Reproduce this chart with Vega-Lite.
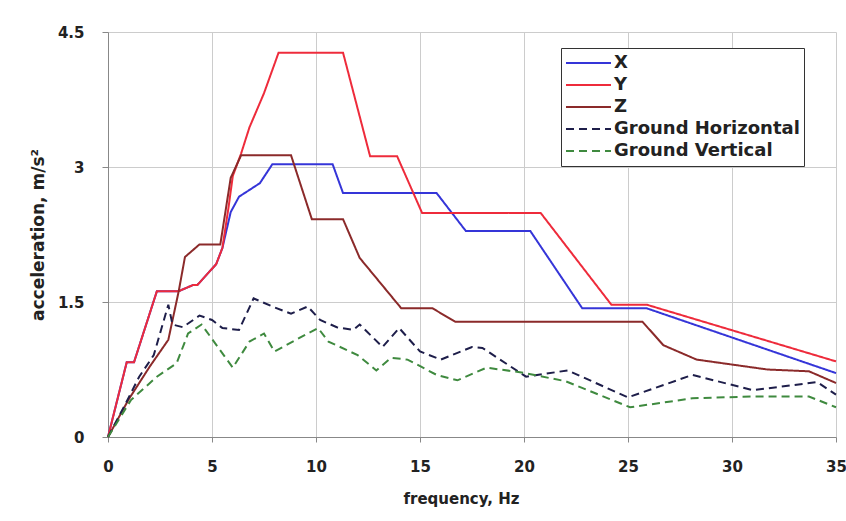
{
  "$schema": "https://vega.github.io/schema/vega-lite/v6.json",
  "autosize": {"type": "none"},
  "padding": {"left": 108, "top": 32, "right": 10, "bottom": 84},
  "width": 728,
  "height": 405,
  "background": "#ffffff",
  "config": {
    "font": "DejaVu Sans",
    "view": {"stroke": null}
  },
  "data": {
    "values": [
      {"s": "X", "f": 0, "a": 0}, {"s": "X", "f": 0.9, "a": 0.83}, {"s": "X", "f": 1.25, "a": 0.83}, {"s": "X", "f": 2.35, "a": 1.62}, {"s": "X", "f": 3.4, "a": 1.62}, {"s": "X", "f": 4.1, "a": 1.69}, {"s": "X", "f": 4.3, "a": 1.69}, {"s": "X", "f": 5.2, "a": 1.92}, {"s": "X", "f": 5.5, "a": 2.1}, {"s": "X", "f": 5.9, "a": 2.5}, {"s": "X", "f": 6.3, "a": 2.67}, {"s": "X", "f": 7.3, "a": 2.82}, {"s": "X", "f": 7.9, "a": 3.03}, {"s": "X", "f": 10.8, "a": 3.03}, {"s": "X", "f": 11.3, "a": 2.71}, {"s": "X", "f": 15.8, "a": 2.71}, {"s": "X", "f": 17.2, "a": 2.29}, {"s": "X", "f": 20.3, "a": 2.29}, {"s": "X", "f": 22.8, "a": 1.43}, {"s": "X", "f": 25.9, "a": 1.43}, {"s": "X", "f": 35, "a": 0.71},
      {"s": "Y", "f": 0, "a": 0}, {"s": "Y", "f": 0.9, "a": 0.83}, {"s": "Y", "f": 1.25, "a": 0.83}, {"s": "Y", "f": 2.35, "a": 1.62}, {"s": "Y", "f": 3.4, "a": 1.62}, {"s": "Y", "f": 4.1, "a": 1.69}, {"s": "Y", "f": 4.3, "a": 1.69}, {"s": "Y", "f": 5.2, "a": 1.92}, {"s": "Y", "f": 5.5, "a": 2.1}, {"s": "Y", "f": 5.8, "a": 2.56}, {"s": "Y", "f": 6.0, "a": 2.9}, {"s": "Y", "f": 6.4, "a": 3.15}, {"s": "Y", "f": 6.8, "a": 3.44}, {"s": "Y", "f": 7.5, "a": 3.82}, {"s": "Y", "f": 8.2, "a": 4.27}, {"s": "Y", "f": 11.3, "a": 4.27}, {"s": "Y", "f": 12.6, "a": 3.12}, {"s": "Y", "f": 13.9, "a": 3.12}, {"s": "Y", "f": 15.1, "a": 2.49}, {"s": "Y", "f": 20.8, "a": 2.49}, {"s": "Y", "f": 24.2, "a": 1.47}, {"s": "Y", "f": 25.9, "a": 1.47}, {"s": "Y", "f": 35, "a": 0.84},
      {"s": "Z", "f": 0, "a": 0}, {"s": "Z", "f": 1, "a": 0.42}, {"s": "Z", "f": 2, "a": 0.78}, {"s": "Z", "f": 2.9, "a": 1.08}, {"s": "Z", "f": 3.4, "a": 1.62}, {"s": "Z", "f": 3.7, "a": 2.0}, {"s": "Z", "f": 4.4, "a": 2.14}, {"s": "Z", "f": 5.4, "a": 2.14}, {"s": "Z", "f": 5.9, "a": 2.88}, {"s": "Z", "f": 6.4, "a": 3.13}, {"s": "Z", "f": 8.8, "a": 3.13}, {"s": "Z", "f": 9.8, "a": 2.42}, {"s": "Z", "f": 11.3, "a": 2.42}, {"s": "Z", "f": 12.1, "a": 1.99}, {"s": "Z", "f": 14.1, "a": 1.43}, {"s": "Z", "f": 15.6, "a": 1.43}, {"s": "Z", "f": 16.7, "a": 1.28}, {"s": "Z", "f": 25.7, "a": 1.28}, {"s": "Z", "f": 26.7, "a": 1.02}, {"s": "Z", "f": 28.3, "a": 0.86}, {"s": "Z", "f": 31.7, "a": 0.75}, {"s": "Z", "f": 33.7, "a": 0.73}, {"s": "Z", "f": 35, "a": 0.6},
      {"s": "Ground Horizontal", "f": 0, "a": 0}, {"s": "Ground Horizontal", "f": 0.8, "a": 0.35}, {"s": "Ground Horizontal", "f": 1.5, "a": 0.67}, {"s": "Ground Horizontal", "f": 2.2, "a": 0.91}, {"s": "Ground Horizontal", "f": 2.9, "a": 1.47}, {"s": "Ground Horizontal", "f": 3.1, "a": 1.25}, {"s": "Ground Horizontal", "f": 3.6, "a": 1.22}, {"s": "Ground Horizontal", "f": 4.4, "a": 1.35}, {"s": "Ground Horizontal", "f": 5.0, "a": 1.3}, {"s": "Ground Horizontal", "f": 5.5, "a": 1.21}, {"s": "Ground Horizontal", "f": 6.3, "a": 1.19}, {"s": "Ground Horizontal", "f": 7.0, "a": 1.54}, {"s": "Ground Horizontal", "f": 7.9, "a": 1.45}, {"s": "Ground Horizontal", "f": 8.8, "a": 1.37}, {"s": "Ground Horizontal", "f": 9.6, "a": 1.45}, {"s": "Ground Horizontal", "f": 10.2, "a": 1.3}, {"s": "Ground Horizontal", "f": 11.0, "a": 1.22}, {"s": "Ground Horizontal", "f": 11.8, "a": 1.19}, {"s": "Ground Horizontal", "f": 12.1, "a": 1.25}, {"s": "Ground Horizontal", "f": 13.2, "a": 1.0}, {"s": "Ground Horizontal", "f": 14.0, "a": 1.21}, {"s": "Ground Horizontal", "f": 15.0, "a": 0.95}, {"s": "Ground Horizontal", "f": 16.0, "a": 0.86}, {"s": "Ground Horizontal", "f": 17.5, "a": 1.0}, {"s": "Ground Horizontal", "f": 18.0, "a": 0.99}, {"s": "Ground Horizontal", "f": 20.1, "a": 0.67}, {"s": "Ground Horizontal", "f": 22.1, "a": 0.74}, {"s": "Ground Horizontal", "f": 25.0, "a": 0.44}, {"s": "Ground Horizontal", "f": 28.1, "a": 0.69}, {"s": "Ground Horizontal", "f": 31.0, "a": 0.52}, {"s": "Ground Horizontal", "f": 34.1, "a": 0.61}, {"s": "Ground Horizontal", "f": 35, "a": 0.47},
      {"s": "Ground Vertical", "f": 0, "a": 0}, {"s": "Ground Vertical", "f": 1.1, "a": 0.41}, {"s": "Ground Vertical", "f": 2.35, "a": 0.67}, {"s": "Ground Vertical", "f": 3.3, "a": 0.82}, {"s": "Ground Vertical", "f": 3.85, "a": 1.15}, {"s": "Ground Vertical", "f": 4.5, "a": 1.25}, {"s": "Ground Vertical", "f": 6.0, "a": 0.77}, {"s": "Ground Vertical", "f": 6.8, "a": 1.06}, {"s": "Ground Vertical", "f": 7.5, "a": 1.15}, {"s": "Ground Vertical", "f": 8.0, "a": 0.95}, {"s": "Ground Vertical", "f": 9.6, "a": 1.15}, {"s": "Ground Vertical", "f": 10.1, "a": 1.21}, {"s": "Ground Vertical", "f": 10.6, "a": 1.06}, {"s": "Ground Vertical", "f": 12.0, "a": 0.91}, {"s": "Ground Vertical", "f": 12.9, "a": 0.74}, {"s": "Ground Vertical", "f": 13.6, "a": 0.88}, {"s": "Ground Vertical", "f": 14.4, "a": 0.86}, {"s": "Ground Vertical", "f": 15.8, "a": 0.69}, {"s": "Ground Vertical", "f": 16.8, "a": 0.63}, {"s": "Ground Vertical", "f": 18.2, "a": 0.77}, {"s": "Ground Vertical", "f": 19.8, "a": 0.72}, {"s": "Ground Vertical", "f": 22.0, "a": 0.62}, {"s": "Ground Vertical", "f": 25.1, "a": 0.33}, {"s": "Ground Vertical", "f": 28.1, "a": 0.43}, {"s": "Ground Vertical", "f": 31.0, "a": 0.45}, {"s": "Ground Vertical", "f": 33.7, "a": 0.45}, {"s": "Ground Vertical", "f": 35, "a": 0.33}
    ]
  },
  "mark": {"type": "line", "strokeWidth": 2, "clip": false},
  "encoding": {
    "x": {
      "field": "f", "type": "quantitative",
      "scale": {"domain": [0, 35], "nice": false, "zero": false},
      "axis": {
        "title": "frequency, Hz", "values": [0, 5, 10, 15, 20, 25, 30, 35],
        "grid": true, "gridColor": "#cccccc", "gridWidth": 1,
        "domainColor": "#888888", "tickColor": "#888888", "tickSize": 5,
        "labelFont": "DejaVu Sans", "labelFontSize": 15, "labelFontWeight": "bold", "labelColor": "#222222",
        "labelPadding": 17, "labelFlush": false,
        "titleFont": "DejaVu Sans", "titleFontSize": 15, "titleFontWeight": "bold", "titleColor": "#222222",
        "titlePadding": 17, "titleX": 353, "titleAlign": "center"
      }
    },
    "y": {
      "field": "a", "type": "quantitative",
      "scale": {"domain": [0, 4.5], "nice": false},
      "axis": {
        "title": "acceleration, m/s²", "values": [0, 1.5, 3, 4.5], "format": ".1~f",
        "grid": true, "gridColor": "#cccccc", "gridWidth": 1,
        "domainColor": "#888888", "tickColor": "#888888", "tickSize": 6,
        "labelFont": "DejaVu Sans", "labelFontSize": 15, "labelFontWeight": "bold", "labelColor": "#222222",
        "labelPadding": 18,
        "titleFont": "DejaVu Sans", "titleFontSize": 17, "titleFontWeight": "bold", "titleColor": "#222222",
        "titlePadding": 10
      }
    },
    "color": {
      "field": "s", "type": "nominal",
      "scale": {
        "domain": ["X", "Y", "Z", "Ground Horizontal", "Ground Vertical"],
        "range": ["#3535d8", "#ee2b3b", "#8b2a2a", "#1e1e4a", "#3f8a3f"]
      },
      "legend": {
        "title": null, "orient": "none", "legendX": 453, "legendY": 16,
        "fillColor": "#ffffff", "strokeColor": "#333333", "padding": 4,
        "symbolType": "M-1,0H1", "symbolSize": 2025, "symbolStrokeWidth": 2,
        "labelFont": "DejaVu Sans", "labelFontSize": 18, "labelFontWeight": "bold", "labelColor": "#222222",
        "labelLimit": 400, "clipHeight": 22, "rowPadding": 0, "labelOffset": 2
      }
    },
    "strokeDash": {
      "field": "s", "type": "nominal",
      "scale": {
        "domain": ["X", "Y", "Z", "Ground Horizontal", "Ground Vertical"],
        "range": [[1, 0], [1, 0], [1, 0], [8, 5], [8, 5]]
      },
      "legend": null
    }
  }
}
